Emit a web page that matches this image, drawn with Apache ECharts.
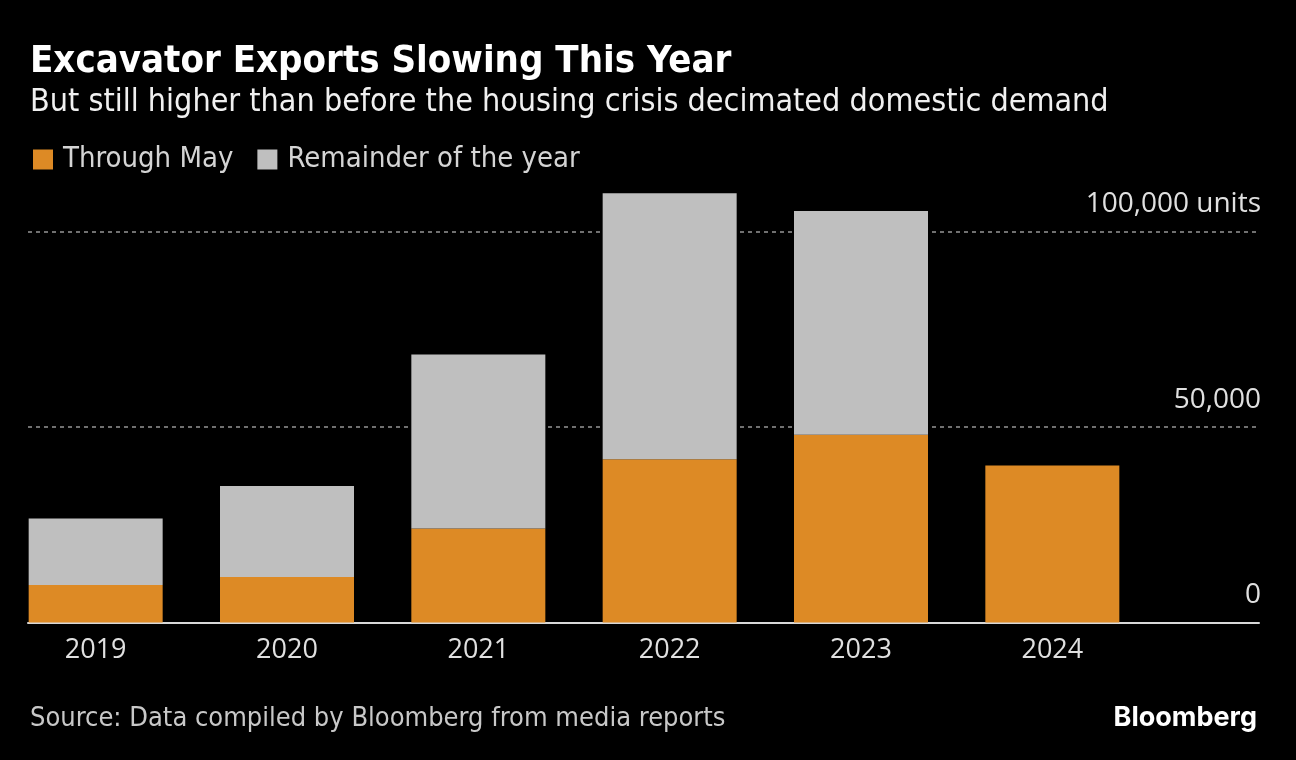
<!DOCTYPE html>
<html>
<head>
<meta charset="utf-8">
<script src="https://cdn.jsdelivr.net/npm/echarts@6/dist/echarts.min.js"></script>
<style>
html,body{margin:0;padding:0;background:#000;}
#chart{width:1296px;height:760px;}
</style>
</head>
<body>
<div id="chart"></div>
<script>
const years = ['2019', '2020', '2021', '2022', '2023', '2024'];
const throughMay = [9600, 11600, 24000, 41700, 48000, 40100];
const remainder = [17000, 23300, 44500, 68000, 57200, null];
const yTicks = [0, 50000, 100000];
const yTickLabels = {0: '0', 50000: '50,000', 100000: '100,000 units'};

const condFont = '"DejaVu Sans Condensed", "Liberation Sans Narrow", "DejaVu Sans", sans-serif';
const axisFont = '"Open Sans", "Noto Sans", sans-serif';

const chart = echarts.init(document.getElementById('chart'), null, {renderer: 'canvas'});
const yMax = 120000;
chart.setOption({
  backgroundColor: '#000',
  animation: false,
  title: [
    {text: 'Excavator Exports Slowing This Year', left: 25, top: 38,
     textStyle: {color: '#fff', fontFamily: condFont, fontWeight: 'bold', fontSize: 38}},
    {text: 'But still higher than before the housing crisis decimated domestic demand', left: 25, top: 82,
     textStyle: {color: '#f0f0f0', fontFamily: condFont, fontWeight: 'normal', fontSize: 32}},
    {text: 'Source: Data compiled by Bloomberg from media reports', left: 25, top: 700,
     textStyle: {color: '#c8c8c8', fontFamily: condFont, fontWeight: 'normal', fontSize: 27}},
    {text: 'Bloomberg', right: 34, top: 699,
     textStyle: {color: '#fff', fontFamily: 'Inter, "Open Sans", sans-serif', fontWeight: 'bold', fontSize: 27}}
  ],
  legend: {
    left: 28, top: 140, icon: 'rect', itemWidth: 20, itemHeight: 20, itemGap: 24,
    data: ['Through May', 'Remainder of the year'],
    textStyle: {color: '#d4d4d4', fontFamily: condFont, fontSize: 29, padding: [0, 0, 0, 5]}
  },
  grid: [
    {left: 0, width: 1148, top: 153, bottom: 137.5},
    {left: 28, right: 37, top: 153, bottom: 137.5}
  ],
  xAxis: [
    {type: 'category', gridIndex: 0, data: years,
     axisLine: {show: false}, axisTick: {show: false},
     axisLabel: {color: '#e0e0e0', fontFamily: axisFont, fontSize: 27, margin: 14}},
    {type: 'value', gridIndex: 1, min: 0, max: 1,
     axisLine: {show: true, onZero: false, lineStyle: {color: '#d8d8d8', width: 2}},
     axisTick: {show: false}, axisLabel: {show: false}, splitLine: {show: false}}
  ],
  yAxis: [
    {type: 'value', gridIndex: 0, min: 0, max: yMax, show: false},
    {type: 'value', gridIndex: 1, min: 0, max: yMax, interval: 50000, position: 'right',
     axisLine: {show: false}, axisTick: {show: false},
     splitLine: {show: true, showMinLine: false, showMaxLine: false,
                 lineStyle: {color: '#707070', type: [4, 4], width: 2}},
     axisLabel: {inside: true, showMaxLabel: false, color: '#e0e0e0', fontFamily: axisFont, fontSize: 28,
                 verticalAlign: 'bottom', padding: [0, 0, 13, 0], margin: -2,
                 formatter: v => (yTicks.indexOf(v) >= 0 ? yTickLabels[v] : '')}}
  ],
  series: [
    {name: 'Through May', type: 'bar', stack: 'a', xAxisIndex: 0, yAxisIndex: 0,
     barWidth: 134, data: throughMay, itemStyle: {color: '#dd8a25'}},
    {name: 'Remainder of the year', type: 'bar', stack: 'a', xAxisIndex: 0, yAxisIndex: 0,
     barWidth: 134, data: remainder, itemStyle: {color: '#bfbfbf'}}
  ]
});
</script>
</body>
</html>
